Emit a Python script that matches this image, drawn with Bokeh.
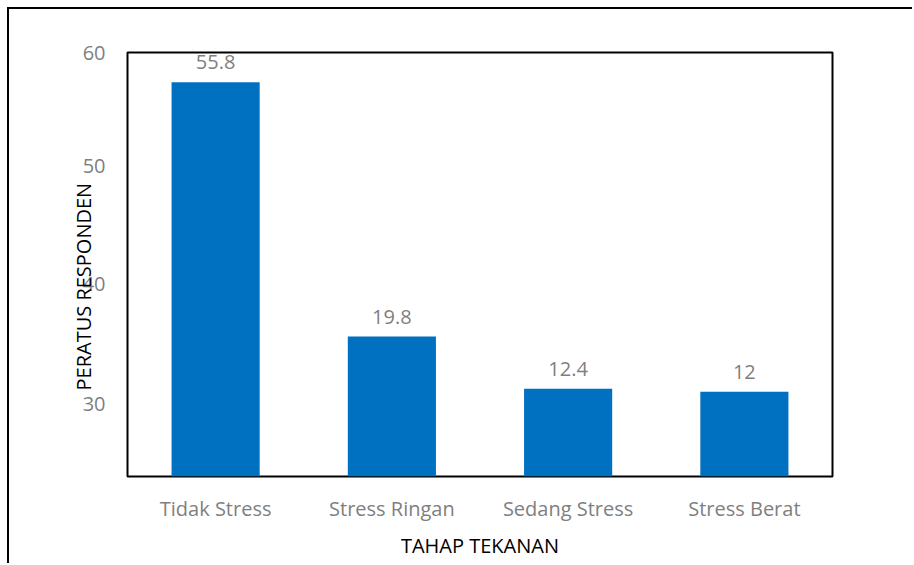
from bokeh.plotting import figure
from bokeh.models import ColumnDataSource, LabelSet, Title, FixedTicker, Range1d
from bokeh.core.properties import value
from bokeh.embed import file_html
from bokeh.resources import INLINE

categories = ["Tidak Stress", "Stress Ringan", "Sedang Stress", "Stress Berat"]
percentages = [55.8, 19.8, 12.4, 12]
value_labels = ["55.8", "19.8", "12.4", "12"]
ytick_values = [60, 43.9, 27.2, 10.3]
ytick_labels = ["60", "50", "40", "30"]

src = ColumnDataSource(dict(cat=categories, val=percentages, lab=value_labels))

FONT = "Open Sans"
GRAY = "#7f7f7f"

p = figure(x_range=categories, y_range=Range1d(0, 60), width=905, height=556,
           output_backend="svg", toolbar_location=None,
           min_border_left=118, min_border_right=82, min_border_top=43, min_border_bottom=89)
p.styles = {"border-top": "2px solid #000", "border-left": "2px solid #000",
            "margin-left": "7px", "margin-top": "7px"}

p.vbar(x="cat", top="val", width=0.5, source=src, fill_color="#0070C0", line_color=None)

p.add_layout(LabelSet(x="cat", y="val", text="lab", source=src, y_offset=13,
                      text_align="center", text_baseline="bottom",
                      text_font=value(FONT), text_font_size="20px", text_color=GRAY))

p.outline_line_color = "black"
p.outline_line_width = 2
p.xgrid.grid_line_color = None
p.ygrid.grid_line_color = None

for ax in (p.xaxis[0], p.yaxis[0]):
    ax.axis_line_color = None
    ax.major_tick_line_color = None
    ax.minor_tick_line_color = None
    ax.major_tick_out = 0
    ax.minor_tick_out = 0
    ax.major_label_text_font = FONT
    ax.major_label_text_font_size = "20px"
    ax.major_label_text_color = GRAY
    ax.axis_label_text_font = FONT
    ax.axis_label_text_font_style = "normal"
    ax.axis_label_text_font_size = "20px"
    ax.axis_label_text_color = "black"

p.yaxis.ticker = FixedTicker(ticks=ytick_values)
p.yaxis.major_label_overrides = {v: l for v, l in zip(ytick_values, ytick_labels)}
p.yaxis.major_label_standoff = 22

p.add_layout(Title(text="PERATUS RESPONDEN", align="left", offset=86, standoff=-34,
                   text_font=FONT, text_font_size="20px", text_font_style="normal",
                   text_color="black"), "left")

p.xaxis.major_label_standoff = 18
p.xaxis.axis_label = "TAHAP TEKANAN"
p.xaxis.axis_label_standoff = 7

open("out.html", "w").write(file_html(p, INLINE))
